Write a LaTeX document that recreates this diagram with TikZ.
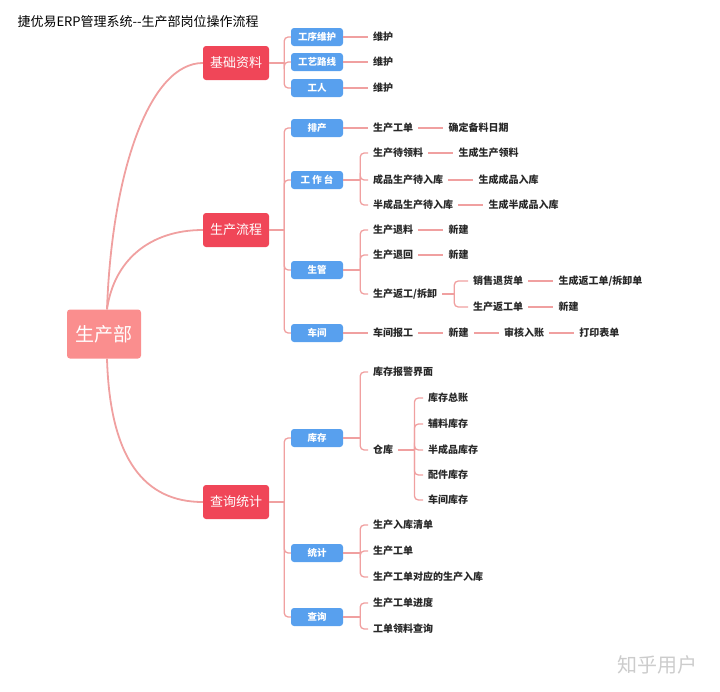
\documentclass[tikz,border=0pt]{standalone}
\usepackage{fontspec}
\setmainfont{Noto Sans CJK SC}
\usetikzlibrary{positioning}
\definecolor{rootpink}{RGB}{250,142,142}
\definecolor{topicred}{RGB}{240,70,88}
\definecolor{subblue}{RGB}{88,160,238}
\definecolor{linkpink}{RGB}{240,160,160}
\definecolor{leafgray}{RGB}{40,40,40}

\tikzset{
  rootbox/.style={fill=rootpink, text=white, rounded corners=3pt, minimum width=74pt, minimum height=49pt, font=\fontsize{19}{19}\selectfont},
  topicbox/.style={fill=topicred, text=white, rounded corners=3pt, minimum width=66pt, minimum height=34pt, font=\fontsize{13}{13}\selectfont},
  subbox/.style={fill=subblue, text=white, rounded corners=3pt, minimum width=52pt, minimum height=18pt, inner sep=0pt, font=\fontsize{9.5}{9.5}\selectfont\bfseries},
  leaf/.style={anchor=west, text=leafgray, inner xsep=5pt, inner ysep=2pt, font=\fontsize{10}{10}\selectfont\bfseries},
  link/.style={draw=linkpink, line width=1.3pt},
  elbow/.style={link, rounded corners=4pt},
  trunk/.style={draw=linkpink, line width=1.8pt},
}

\begin{document}
\begin{tikzpicture}[x=1pt, y=-1pt]
    \useasboundingbox (0,0) rectangle (720,691);
    \node[anchor=west, font=\fontsize{13}{13}\selectfont] (title) at (14,22) {捷优易ERP管理系统-{}-生产部岗位操作流程};

    % Root and topics
    \node[rootbox] (root) at (104,334) {生产部};
    \node[topicbox] (base) at (236,63) {基础资料};
    \node[topicbox] (flow) at (236,230) {生产流程};
    \node[topicbox] (query) at (236,502) {查询统计};
    \draw[trunk] ([xshift=3pt]root.north) .. controls (112,170) and (150,63) .. (base.west);
    \draw[trunk] ([xshift=3pt]root.north) .. controls (114,260) and (150,230) .. (flow.west);
    \draw[trunk] ([xshift=3pt]root.south) .. controls (110,460) and (145,502) .. (query.west);

    % Sub topics
    \node[subbox] (seq) at (317,37) {工序维护};
    \node[subbox] (route) at (317,62) {工艺路线};
    \node[subbox] (worker) at (317,88) {工人};
    \node[subbox] (sched) at (317,128) {排产};
    \node[subbox] (desk) at (317,180) {工\ 作\ 台};
    \node[subbox] (ctrl) at (317,270) {生管};
    \node[subbox] (shop) at (317,333) {车间};
    \node[subbox] (stock) at (317,438) {库存};
    \node[subbox] (stat) at (317,553) {统计};
    \node[subbox] (look) at (317,617) {查询};

    \draw[link] (base.east) -- ++(15,0) coordinate (baseS);
    \foreach \c in {seq,route,worker} \draw[elbow] (baseS) |- (\c.west);
    \draw[link] (flow.east) -- ++(15,0) coordinate (flowS);
    \foreach \c in {sched,desk,ctrl,shop} \draw[elbow] (flowS) |- (\c.west);
    \draw[link] (query.east) -- ++(15,0) coordinate (queryS);
    \foreach \c in {stock,stat,look} \draw[elbow] (queryS) |- (\c.west);

    % Basic data
    \node[leaf] (m1) at (368,37) {维护};
    \node[leaf] (m2) at (368,62) {维护};
    \node[leaf] (m3) at (368,88) {维护};
    \draw[link] (seq.east) -- (m1.west);
    \draw[link] (route.east) -- (m2.west);
    \draw[link] (worker.east) -- (m3.west);

    % Scheduling
    \node[leaf] (s1) at (368,128) {生产工单};
    \node[leaf, right=25pt of s1] (s1a) {确定备料日期};
    \draw[link] (sched.east) -- (s1.west);
    \draw[link] (s1.east) -- (s1a.west);

    % Workbench
    \node[leaf] (d1) at (368,153) {生产待领料};
    \node[leaf, right=25pt of d1] (d1a) {生成生产领料};
    \node[leaf] (d2) at (368,180) {成品生产待入库};
    \node[leaf, right=25pt of d2] (d2a) {生成成品入库};
    \node[leaf] (d3) at (368,205) {半成品生产待入库};
    \node[leaf, right=25pt of d3] (d3a) {生成半成品入库};
    \draw[link] (desk.east) -- ++(17,0) coordinate (deskS);
    \foreach \c in {d1,d2,d3} \draw[elbow] (deskS) |- (\c.west);
    \draw[link] (d1.east) -- (d1a.west);
    \draw[link] (d2.east) -- (d2a.west);
    \draw[link] (d3.east) -- (d3a.west);

    % Production control
    \node[leaf] (c1) at (368,230) {生产退料};
    \node[leaf, right=25pt of c1] (c1a) {新建};
    \node[leaf] (c2) at (368,255) {生产退回};
    \node[leaf, right=25pt of c2] (c2a) {新建};
    \node[leaf] (c3) at (368,294) {生产返工/拆卸};
    \node[leaf] (c3x) at (468,281) {销售退货单};
    \node[leaf, right=25pt of c3x] (c3xa) {生成返工单/拆卸单};
    \node[leaf] (c3y) at (468,307) {生产返工单};
    \node[leaf, right=25pt of c3y] (c3ya) {新建};
    \draw[link] (ctrl.east) -- ++(17,0) coordinate (ctrlS);
    \foreach \c in {c1,c2,c3} \draw[elbow] (ctrlS) |- (\c.west);
    \draw[link] (c1.east) -- (c1a.west);
    \draw[link] (c2.east) -- (c2a.west);
    \draw[link] (c3.east) -- ++(12,0) coordinate (c3S);
    \foreach \c in {c3x,c3y} \draw[elbow] (c3S) |- (\c.west);
    \draw[link] (c3x.east) -- (c3xa.west);
    \draw[link] (c3y.east) -- (c3ya.west);

    % Workshop
    \node[leaf] (w1) at (368,333) {车间报工};
    \node[leaf, right=25pt of w1] (w2) {新建};
    \node[leaf, right=25pt of w2] (w3) {审核入账};
    \node[leaf, right=25pt of w3] (w4) {打印表单};
    \draw[link] (shop.east) -- (w1.west);
    \draw[link] (w1.east) -- (w2.west);
    \draw[link] (w2.east) -- (w3.west);
    \draw[link] (w3.east) -- (w4.west);

    % Stock
    \node[leaf] (k1) at (368,372) {库存报警界面};
    \node[leaf] (k2) at (368,450) {仓库};
    \node[leaf] (k21) at (423,398) {库存总账};
    \node[leaf] (k22) at (423,424) {辅料库存};
    \node[leaf] (k23) at (423,450) {半成品库存};
    \node[leaf] (k24) at (423,475) {配件库存};
    \node[leaf] (k25) at (423,500) {车间库存};
    \draw[link] (stock.east) -- ++(17,0) coordinate (stockS);
    \foreach \c in {k1,k2} \draw[elbow] (stockS) |- (\c.west);
    \draw[link] (k2.east) -- ++(16,0) coordinate (k2S);
    \foreach \c in {k21,k22,k23,k24,k25} \draw[elbow] (k2S) |- (\c.west);

    % Statistics
    \node[leaf] (r1) at (368,525) {生产入库清单};
    \node[leaf] (r2) at (368,551) {生产工单};
    \node[leaf] (r3) at (368,577) {生产工单对应的生产入库};
    \draw[link] (stat.east) -- ++(17,0) coordinate (statS);
    \foreach \c in {r1,r2,r3} \draw[elbow] (statS) |- (\c.west);

    % Lookup
    \node[leaf] (q1) at (368,603) {生产工单进度};
    \node[leaf] (q2) at (368,629) {工单领料查询};
    \draw[link] (look.east) -- ++(17,0) coordinate (lookS);
    \foreach \c in {q1,q2} \draw[elbow] (lookS) |- (\c.west);

    \node[text=gray!40, font=\fontsize{20}{20}\selectfont] (mark) at (657,665) {知乎用户};
\end{tikzpicture}
\end{document}
